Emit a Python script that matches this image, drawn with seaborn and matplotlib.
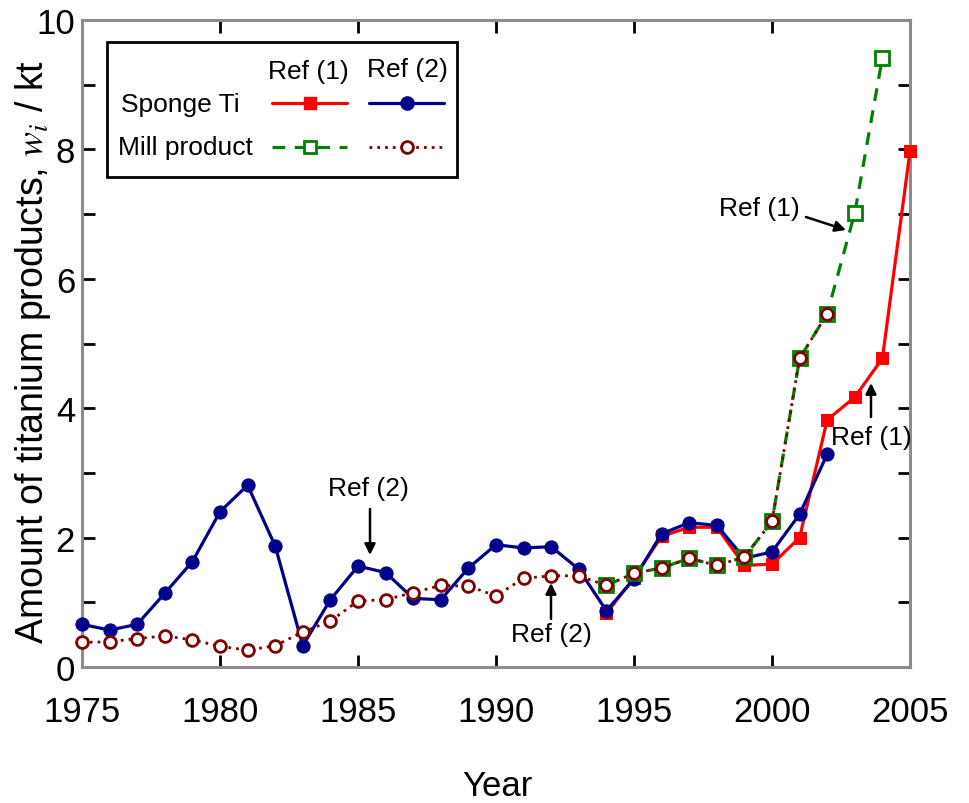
import matplotlib
matplotlib.use("Agg")
import matplotlib.pyplot as plt
from matplotlib.lines import Line2D
from matplotlib.patches import Rectangle
from matplotlib.ticker import MultipleLocator
import seaborn as sns

# Titanium production data (kt)
years_ref2 = list(range(1975, 2003))
sponge_ref2 = [0.66, 0.57, 0.66, 1.14, 1.63, 2.40, 2.81, 1.87, 0.33, 1.04,
               1.56, 1.46, 1.06, 1.04, 1.53, 1.89, 1.84, 1.86, 1.51, 0.87,
               1.36, 2.06, 2.23, 2.19, 1.68, 1.78, 2.36, 3.29]
mill_ref2 = [0.38, 0.39, 0.44, 0.48, 0.42, 0.32, 0.26, 0.33, 0.54, 0.71,
             1.02, 1.04, 1.15, 1.26, 1.25, 1.10, 1.37, 1.41, 1.41, 1.26,
             1.45, 1.53, 1.68, 1.57, 1.70, 2.25, 4.77, 5.46]

years_sponge_ref1 = list(range(1994, 2006))
sponge_ref1 = [0.83, 1.38, 2.02, 2.16, 2.16, 1.57, 1.59, 2.00, 3.82, 4.17, 4.77, 7.97]

years_mill_ref1 = list(range(1994, 2005))
mill_ref1 = [1.26, 1.45, 1.53, 1.68, 1.57, 1.70, 2.25, 4.77, 5.46, 7.02, 9.42]

x_ticks = [1975, 1980, 1985, 1990, 1995, 2000, 2005]
y_ticks = [0, 2, 4, 6, 8, 10]

RED = "#ff0000"
NAVY = "#00008b"
GREEN = "#008000"
MAROON = "#800000"

sns.set_style("ticks")
plt.rcParams["font.family"] = ["Liberation Sans", "DejaVu Sans"]
plt.rcParams["mathtext.fontset"] = "stix"
for key in ("text.color", "axes.labelcolor", "xtick.color", "ytick.color",
            "xtick.labelcolor", "ytick.labelcolor"):
    plt.rcParams[key] = "black"

W, H = 969, 804
fig = plt.figure(figsize=(W / 100, H / 100), dpi=100)
ax = fig.add_axes([82 / W, 1 - 668 / H, (910 - 82) / W, (668 - 21) / H])

lw = 2.3
styles = {
    "sponge1": dict(color=RED, lw=lw, marker="s", markersize=9,
                    markeredgecolor=RED, markerfacecolor=RED),
    "sponge2": dict(color=NAVY, lw=lw, marker="o", markersize=9.5,
                    markeredgecolor=NAVY, markerfacecolor=NAVY),
    "mill1": dict(color=GREEN, lw=lw, dashes=(4, 3), marker="s", markersize=9.5,
                  markeredgecolor=GREEN, markerfacecolor="white",
                  markeredgewidth=2),
    "mill2": dict(color=MAROON, lw=2.0, dashes=(1, 1.8), marker="o",
                  markersize=8.5, markeredgecolor=MAROON,
                  markerfacecolor="white", markeredgewidth=2),
}

sns.lineplot(x=years_sponge_ref1, y=sponge_ref1, ax=ax, zorder=3,
             clip_on=False, **styles["sponge1"])
sns.lineplot(x=years_ref2, y=sponge_ref2, ax=ax, zorder=4,
             clip_on=False, **styles["sponge2"])
sns.lineplot(x=years_mill_ref1, y=mill_ref1, ax=ax, zorder=5,
             clip_on=False, **styles["mill1"])
sns.lineplot(x=years_ref2, y=mill_ref2, ax=ax, zorder=6,
             clip_on=False, **styles["mill2"])

ax.set_xlim(1975, 2005)
ax.set_ylim(0, 10)
ax.set_xticks(x_ticks)
ax.set_xticklabels([str(t) for t in x_ticks])
ax.set_yticks(y_ticks)
ax.set_yticklabels([str(t) for t in y_ticks])
ax.yaxis.set_minor_locator(MultipleLocator(1))
ax.tick_params(which="both", direction="in", top=True, right=True,
               width=2, color="black", labelsize=25)
ax.tick_params(which="major", length=9)
ax.tick_params(which="minor", length=9)
ax.tick_params(axis="x", pad=20)
ax.tick_params(axis="y", pad=5)
for s in ax.spines.values():
    s.set_color("#8c8c8c")
    s.set_linewidth(2.2)

ax.set_xlabel("Year", fontsize=25)
ax.xaxis.set_label_coords(497 / W, 1 - 787 / H, transform=fig.transFigure)
ax.xaxis.label.set_va("center")
ax.set_ylabel("Amount of titanium products, $w_i$ / kt", fontsize=27)
ax.yaxis.set_label_coords(33 / W, 1 - 352 / H, transform=fig.transFigure)
ax.yaxis.label.set_va("center")


def fpx(x, y):
    """Figure-pixel position measured from the top-left corner."""
    return (x, H - y)


arrow = dict(arrowstyle="-|>", color="black", lw=1.8, mutation_scale=16,
             shrinkA=0, shrinkB=0)
ann_kw = dict(xycoords="figure pixels", textcoords="figure pixels",
              fontsize=19, ha="center", va="center", zorder=10)

ax.annotate("", xy=fpx(370, 556), xytext=fpx(370, 510), arrowprops=arrow, **ann_kw)
fig.text(368 / W, 1 - 489 / H, "Ref (2)", fontsize=19, ha="center", va="center")

ax.annotate("", xy=fpx(551, 584), xytext=fpx(551, 620), arrowprops=arrow, **ann_kw)
fig.text(551 / W, 1 - 635 / H, "Ref (2)", fontsize=19, ha="center", va="center")

ax.annotate("", xy=fpx(846, 231), xytext=fpx(806, 218), arrowprops=arrow, **ann_kw)
fig.text(759 / W, 1 - 209 / H, "Ref (1)", fontsize=19, ha="center", va="center")

ax.annotate("", xy=fpx(871, 384), xytext=fpx(871, 418), arrowprops=arrow, **ann_kw)
fig.text(871 / W, 1 - 438 / H, "Ref (1)", fontsize=19, ha="center", va="center")

# Two-column key: rows are products, columns are references
fig.add_artist(Rectangle((107 / W, 1 - 178 / H), 350 / W, 135 / H,
                         transform=fig.transFigure, facecolor="white",
                         edgecolor="black", lw=2, zorder=20))
key_kw = dict(fontsize=19, va="center", zorder=21)
fig.text(308 / W, 1 - 72 / H, "Ref (1)", ha="center", **key_kw)
fig.text(407 / W, 1 - 70 / H, "Ref (2)", ha="center", **key_kw)
fig.text(121 / W, 1 - 105 / H, "Sponge Ti", ha="left", **key_kw)
fig.text(118 / W, 1 - 148 / H, "Mill product", ha="left", **key_kw)


def key_line(x0, x1, y, style):
    line_kw = {k: v for k, v in style.items() if not k.startswith("marker")}
    mark_kw = {k: v for k, v in style.items() if k.startswith("marker")}
    if style.get("marker") == "s" and style.get("markerfacecolor") == "white":
        mark_kw["markersize"] = 8
    fig.add_artist(Line2D([x0 / W, x1 / W], [1 - y / H, 1 - y / H],
                          transform=fig.transFigure, zorder=22, **line_kw))
    fig.add_artist(Line2D([(x0 + x1) / 2 / W], [1 - y / H], lw=0,
                          transform=fig.transFigure, zorder=23, **mark_kw))


key_line(272, 347, 104, styles["sponge1"])
key_line(369, 444, 104, styles["sponge2"])
key_line(272, 347, 148, styles["mill1"])
key_line(369, 444, 148, styles["mill2"])

fig.savefig("out.png", dpi=100)
